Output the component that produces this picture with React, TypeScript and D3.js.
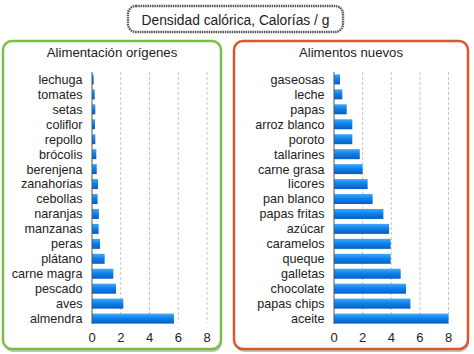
import React from "react";
import * as d3 from "d3";

const titleText = "Densidad calórica, Calorías / g";
const leftTitle = "Alimentación orígenes";
const rightTitle = "Alimentos nuevos";

const leftCategories = ["lechuga", "tomates", "setas", "coliflor", "repollo", "brócolis", "berenjena", "zanahorias", "cebollas", "naranjas", "manzanas", "peras", "plátano", "carne magra", "pescado", "aves", "almendra"];
const leftValues = [0.12, 0.19, 0.23, 0.21, 0.23, 0.3, 0.33, 0.42, 0.39, 0.48, 0.46, 0.56, 0.88, 1.48, 1.67, 2.18, 5.7];

const rightCategories = ["gaseosas", "leche", "papas", "arroz blanco", "poroto", "tallarines", "carne grasa", "licores", "pan blanco", "papas fritas", "azúcar", "caramelos", "queque", "galletas", "chocolate", "papas chips", "aceite"];
const rightValues = [0.42, 0.58, 0.89, 1.28, 1.28, 1.8, 2.0, 2.35, 2.7, 3.45, 3.85, 3.96, 3.96, 4.66, 5.03, 5.34, 8.0];

const xTicks = [0, 2, 4, 6, 8];

const FONT = "'Liberation Sans', Arial, Helvetica, sans-serif";

function Panel({ x0, x1, px, pw, title, cats, vals, border, gid }: any) {
  const x = d3.scaleLinear().domain([0, 8]).range([x0, x1]);
  const y = d3.scaleBand<string>().domain(cats).range([72, 326]).paddingInner(0.33).paddingOuter(0.16);
  const cx = px + pw / 2;
  return (
    <g>
      <rect x={px + 1} y={43} width={pw} height={309} rx={9} fill="#9a9a9a" opacity={0.6} />
      <rect x={px} y={41} width={pw} height={308} rx={9} fill="#fff" stroke={border} strokeWidth={2.5} />
      <text x={cx} y={52} dy="0.35em" textAnchor="middle" fontSize={13.2} fill="#222" fontFamily={FONT}>{title}</text>
      {xTicks.slice(1).map((t) => (
        <line key={t} x1={x(t)} x2={x(t)} y1={72} y2={323} stroke="#c4c4c4" strokeDasharray="3,2" strokeWidth={1} />
      ))}
      {cats.map((c: string, i: number) => (
        <g key={c}>
          <rect x={x(0)} y={y(c)} width={x(vals[i]) - x(0)} height={y.bandwidth()} fill={`url(#${gid})`} />
          <text x={x0 - 9.5} y={(y(c) as number) + y.bandwidth() / 2} dy="0.35em" textAnchor="end" fontSize={12.6} fill="#222" fontFamily={FONT}>{c}</text>
        </g>
      ))}
      <line x1={x(0)} x2={x(0)} y1={72} y2={324} stroke="#555" strokeWidth={1} />
      {xTicks.map((t) => (
        <text key={t} x={x(t)} y={337} dy="0.35em" textAnchor="middle" fontSize={13} fill="#222" fontFamily={FONT}>{t}</text>
      ))}
    </g>
  );
}

export default function App() {
  return (
    <svg width={474} height={354} style={{ position: "absolute", left: 0, top: 0, background: "#fff" }}>
      <defs>
        <linearGradient id="barg" x1="0" y1="0" x2="0" y2="1">
          <stop offset="0" stopColor="#45a8f5" />
          <stop offset="0.45" stopColor="#0d82ec" />
          <stop offset="1" stopColor="#0a5cc2" />
        </linearGradient>
      </defs>
      <rect x={0} y={0} width={474} height={354} fill="#fff" />
      <rect x={128} y={6} width={215} height={26} rx={8} fill="#fff" stroke="#555" strokeWidth={2.4} strokeDasharray="1.5,0.8" />
      <text x={235.5} y={20} dy="0.35em" textAnchor="middle" fontSize={13.8} fill="#222" fontFamily={FONT}>{titleText}</text>
      <Panel x0={92} x1={207} px={3} pw={218} title={leftTitle} cats={leftCategories} vals={leftValues} border="#7dbd45" gid="barg" />
      <Panel x0={334} x1={448.5} px={234} pw={234} title={rightTitle} cats={rightCategories} vals={rightValues} border="#d6592e" gid="barg" />
    </svg>
  );
}
